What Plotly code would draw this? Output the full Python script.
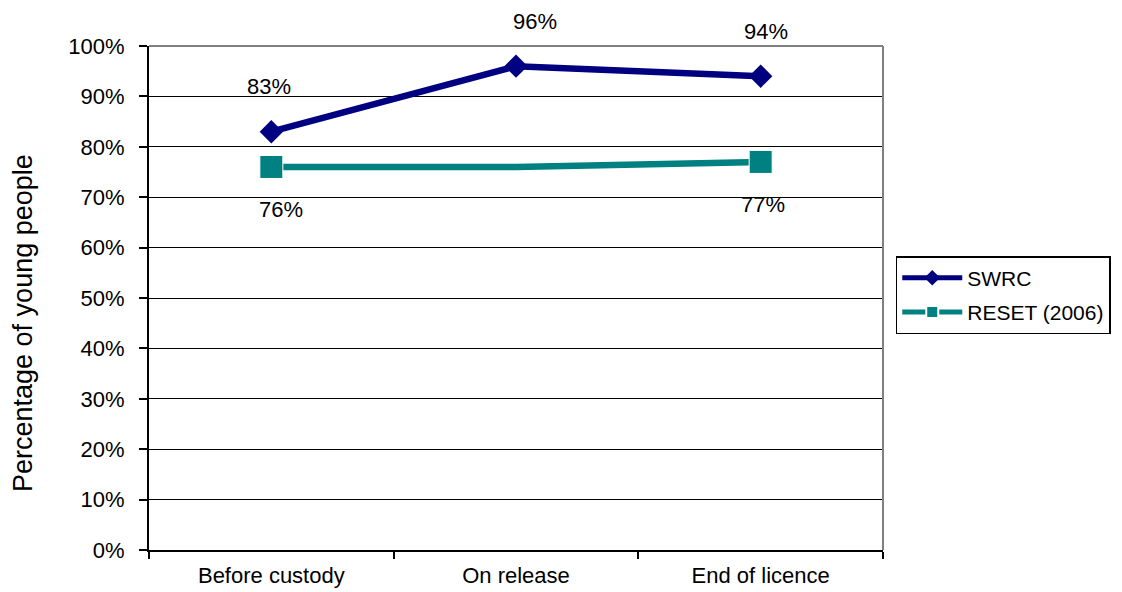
import plotly.graph_objects as go

# Stages of the sentence and the share of young people at each stage
stages = ["Before custody", "On release", "End of licence"]
swrc = [0.83, 0.96, 0.94]
reset = [0.76, 0.76, 0.77]
# Which points carry a visible marker and value label
reset_marked = [True, False, True]
swrc_marked = [True, True, True]

navy = "#000080"
teal = "#008080"
font_family = "Liberation Sans, Arial, sans-serif"

fig = go.Figure()

fig.add_trace(go.Scatter(
    x=stages, y=swrc, name="SWRC", mode="lines+markers", legendgroup="swrc",
    line=dict(color=navy, width=6.5),
    marker=dict(symbol="diamond", size=18, color=navy, opacity=1),
))
fig.add_trace(go.Scatter(
    x=stages, y=reset, name="RESET (2006)", mode="lines+markers", legendgroup="reset",
    line=dict(color=teal, width=6.5),
    marker=dict(symbol="square", size=[23 if m else 0 for m in reset_marked],
                color=teal, opacity=1),
))

# Value labels: SWRC above its points, RESET below
swrc_shift = [-2, 19, 5]
for i, (s, v) in enumerate(zip(stages, swrc)):
    if swrc_marked[i]:
        fig.add_annotation(x=s, y=v, text=f"{v:.0%}", showarrow=False,
                           xshift=swrc_shift[i], yshift=45,
                           font=dict(size=22, color="#000", family=font_family))
reset_shift = [10, 2, 2]
for i, (s, v) in enumerate(zip(stages, reset)):
    if reset_marked[i]:
        fig.add_annotation(x=s, y=v, text=f"{v:.0%}", showarrow=False,
                           xshift=reset_shift[i], yshift=-43,
                           font=dict(size=22, color="#000", family=font_family))

# Y-axis title, placed as a rotated annotation
fig.add_annotation(text="Percentage of young people", xref="paper", yref="paper",
                   x=0, y=0.5, xshift=-143, yshift=-25, textangle=-90, showarrow=False,
                   font=dict(size=27, color="#000", family=font_family))

# Grey frame on the top and right of the plot area
fig.add_shape(type="line", xref="paper", yref="paper", x0=0, x1=1, y0=1, y1=1,
              line=dict(color="#808080", width=2))
fig.add_shape(type="line", xref="paper", yref="paper", x0=1, x1=1, y0=0, y1=1,
              line=dict(color="#808080", width=2))

fig.update_layout(
    width=1122, height=592,
    margin=dict(l=149, r=238, t=46, b=42),
    paper_bgcolor="white", plot_bgcolor="white",
    font=dict(family=font_family, size=21, color="#000"),
    showlegend=True,
    legend=dict(
        x=1.016, y=0.583, xanchor="left", yanchor="top",
        bordercolor="#000", borderwidth=1.5, bgcolor="white",
        font=dict(size=21, family=font_family),
        itemsizing="constant", itemwidth=60, tracegroupgap=4,
    ),
    xaxis=dict(
        type="category", range=[-0.5, 2.5], automargin=False,
        tickson="boundaries", ticks="outside", ticklen=7, tickwidth=2, tickcolor="#000",
        showline=True, linecolor="#000", linewidth=2,
        showgrid=False, zeroline=False,
        ticklabelstandoff=5,
        tickfont=dict(size=22, family=font_family),
    ),
    yaxis=dict(
        range=[0, 1], dtick=0.1, tickformat=".0%", automargin=False,
        ticks="outside", ticklen=8, tickwidth=1.5, tickcolor="#000",
        showline=True, linecolor="#000", linewidth=2,
        showgrid=True, gridcolor="#000", gridwidth=1.2, zeroline=False,
        ticklabelstandoff=10,
        tickfont=dict(size=22, family=font_family),
    ),
)

fig.write_html("out.html")
